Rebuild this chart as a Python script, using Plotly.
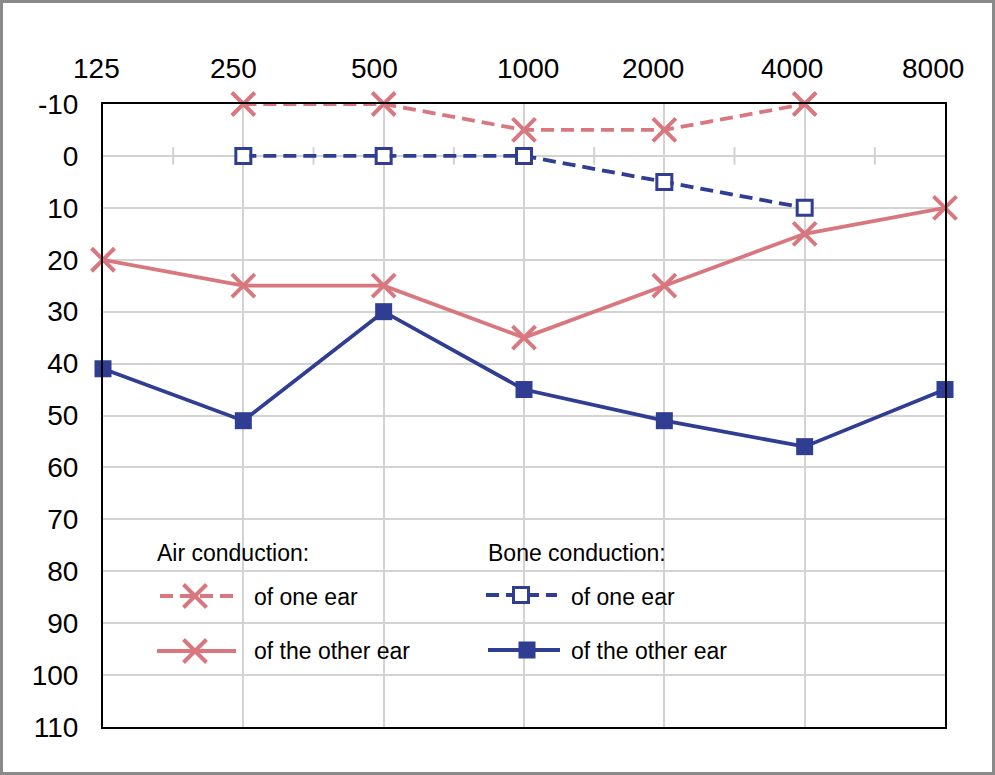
import math
import plotly.graph_objects as go

# ---- data ----
freqs = [125, 250, 500, 1000, 2000, 4000, 8000]
freq_labels = ["125", "250", "500", "1000", "2000", "4000", "8000"]
db_ticks = [-10, 0, 10, 20, 30, 40, 50, 60, 70, 80, 90, 100, 110]
db_labels = ["-10", "0", "10", "20", "30", "40", "50", "60", "70", "80", "90", "100", "110"]

air_one_freq = [250, 500, 1000, 2000, 4000]
air_one_db = [-10, -10, -5, -5, -10]

bone_one_freq = [250, 500, 1000, 2000, 4000]
bone_one_db = [0, 0, 0, 5, 10]

air_other_freq = [125, 250, 500, 1000, 2000, 4000, 8000]
air_other_db = [20, 25, 25, 35, 25, 15, 10]

bone_other_freq = [125, 250, 500, 1000, 2000, 4000, 8000]
bone_other_db = [41, 51, 30, 45, 51, 56, 45]

legend_titles = ["Air conduction:", "Bone conduction:"]
legend_labels = ["of one ear", "of the other ear"]

# ---- styles ----
PINK = "#d9777f"
BLUE = "#2f3d92"
GRID = "#d3d3d3"
FONT = "Liberation Sans"
freq_label_shift = [-7, -10, -9, 4, -11, -13, -12]  # px offsets of top labels

W, H = 995, 775
L, R, T, B = 103, 50, 104, 48
PW, PH = W - L - R, H - T - B


def px_x(p):
    return (p - L) / PW


def px_y(p):
    return (H - B - p) / PH


x_marker = dict(symbol="x-thin-open", size=23, color=PINK, line=dict(color=PINK, width=4))
sq_open = dict(symbol="square-open", size=15, color=BLUE, line=dict(color=BLUE, width=3))
sq_fill = dict(symbol="square", size=17, color=BLUE, line=dict(color=BLUE, width=0))
dash = "13px,7px"
LW = 3.8

fig = go.Figure()

fig.add_trace(go.Scatter(x=air_other_freq, y=air_other_db, mode="lines+markers",
                         line=dict(color=PINK, width=LW), marker=x_marker,
                         showlegend=False, cliponaxis=False))
fig.add_trace(go.Scatter(x=bone_other_freq, y=bone_other_db, mode="lines+markers",
                         line=dict(color=BLUE, width=LW), marker=sq_fill,
                         showlegend=False, cliponaxis=False))
fig.add_trace(go.Scatter(x=air_one_freq, y=air_one_db, mode="lines+markers",
                         line=dict(color=PINK, width=LW, dash=dash), marker=x_marker,
                         showlegend=False, cliponaxis=False))
fig.add_trace(go.Scatter(x=bone_one_freq, y=bone_one_db, mode="lines",
                         line=dict(color=BLUE, width=LW, dash=dash),
                         showlegend=False, cliponaxis=False))
# white fill inside open squares
fig.add_trace(go.Scatter(x=bone_one_freq, y=bone_one_db, mode="markers",
                         marker=dict(symbol="square", size=12, color="white"),
                         showlegend=False, hoverinfo="skip", cliponaxis=False))
fig.add_trace(go.Scatter(x=bone_one_freq, y=bone_one_db, mode="markers",
                         marker=sq_open, showlegend=False, cliponaxis=False))

# ---- legend samples on an overlay pixel-space axis ----
legend_rows = [
    (160, 240, 195, 596, dash, x_marker, PINK),
    (157, 236, 195, 651, "solid", x_marker, PINK),
    (486, 557, 521, 595, dash, sq_open, BLUE),
    (488, 560, 527, 650, "solid", sq_fill, BLUE),
]
for x0, x1, xm, yy, ds, mk, col in legend_rows:
    fig.add_trace(go.Scatter(x=[x0, x1], y=[yy, yy], mode="lines",
                             line=dict(color=col, width=LW, dash=ds),
                             xaxis="x2", yaxis="y2", showlegend=False, hoverinfo="skip"))
    if mk is sq_open:
        fig.add_trace(go.Scatter(x=[xm], y=[yy], mode="markers",
                                 marker=dict(symbol="square", size=12, color="white"),
                                 xaxis="x2", yaxis="y2", showlegend=False, hoverinfo="skip"))
    fig.add_trace(go.Scatter(x=[xm], y=[yy], mode="markers", marker=mk,
                             xaxis="x2", yaxis="y2", showlegend=False, hoverinfo="skip"))

annotations = []
for title, tx in zip(legend_titles, [155, 486]):
    annotations.append(dict(x=tx, y=553, xref="x2", yref="y2", text=title, showarrow=False,
                            xanchor="left", yanchor="middle",
                            font=dict(family=FONT, size=23, color="black")))
for tx in [252, 569]:
    for label, ty in zip(legend_labels, [597, 651]):
        annotations.append(dict(x=tx, y=ty, xref="x2", yref="y2", text=label, showarrow=False,
                                xanchor="left", yanchor="middle",
                                font=dict(family=FONT, size=23, color="black")))

# top frequency labels
for f, lab, sh in zip(freqs, freq_labels, freq_label_shift):
    annotations.append(dict(x=math.log10(f), y=px_y(68), xref="x", yref="paper", text=lab,
                            showarrow=False, xanchor="center", yanchor="middle", xshift=sh,
                            font=dict(family=FONT, size=28, color="black")))

# ---- minor half-octave ticks on 0 dB line ----
shapes = []
for a, b in zip(freqs[:-1], freqs[1:]):
    m = math.sqrt(a * b)
    shapes.append(dict(type="line", xref="x", yref="y", x0=m, x1=m, y0=-1.7, y1=1.7,
                       line=dict(color=GRID, width=2), layer="below"))

# outer gray frame
shapes.append(dict(type="rect", xref="paper", yref="paper",
                   x0=px_x(1.5), x1=px_x(W - 1.5), y0=px_y(H - 1.5), y1=px_y(1.5),
                   line=dict(color="#8a8a8a", width=3), fillcolor="rgba(0,0,0,0)", layer="below"))

fig.update_layout(
    width=W, height=H,
    margin=dict(l=L, r=R, t=T, b=B),
    paper_bgcolor="white", plot_bgcolor="white",
    font=dict(family=FONT, size=28, color="black"),
    xaxis=dict(type="log", range=[math.log10(freqs[0]), math.log10(freqs[-1])],
               side="top", tickvals=freqs, ticktext=freq_labels, showticklabels=False,
               showgrid=True, gridcolor=GRID, gridwidth=2,
               showline=True, linecolor="black", linewidth=2, mirror=True,
               ticks="", zeroline=False),
    yaxis=dict(range=[110, -10], tickvals=db_ticks, ticktext=db_labels,
               showgrid=True, gridcolor=GRID, gridwidth=2,
               showline=True, linecolor="black", linewidth=2, mirror=True,
               ticks="", ticklabelstandoff=17,
               zeroline=False, tickfont=dict(family=FONT, size=28)),
    xaxis2=dict(range=[L, W - R], overlaying="x", visible=False, fixedrange=True),
    yaxis2=dict(range=[H - B, T], overlaying="y", visible=False, fixedrange=True),
    annotations=annotations,
    shapes=shapes,
)

fig.write_html("out.html", config={"displayModeBar": False},
               post_script="document.body.style.margin='0px';")
